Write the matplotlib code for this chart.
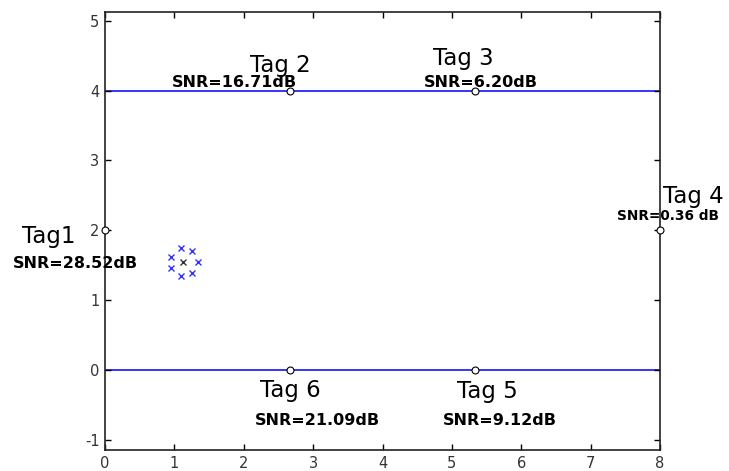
import matplotlib
matplotlib.use("Agg")
import matplotlib.pyplot as plt

plt.rcParams["axes.unicode_minus"] = False

# Tag positions (hexagon around the reader area) and measured SNR
tag_names = ["Tag1", "Tag 2", "Tag 3", "Tag 4", "Tag 5", "Tag 6"]
tag_x = [0.0, 8 / 3, 16 / 3, 8.0, 16 / 3, 8 / 3]
tag_y = [2.0, 4.0, 4.0, 2.0, 0.0, 0.0]
snr_labels = ["SNR=28.52dB", "SNR=16.71dB", "SNR=6.20dB",
              "SNR=0.36 dB", "SNR=9.12dB", "SNR=21.09dB"]

# Boundary lines (walls) of the area
wall_y = [4.0, 0.0]

# Estimated positions (blue) and their centroid (black)
est_x = [1.09, 1.26, 0.955, 1.335, 0.955, 1.09, 1.26]
est_y = [1.74, 1.70, 1.62, 1.55, 1.46, 1.34, 1.39]
centre_x = [1.13]
centre_y = [1.55]

# Text placement: (name_x, name_y, snr_x, snr_y, snr_size)
label_pos = [
    (-1.20, 1.82, -1.33, 1.46, 11.5),
    (2.09, 4.27, 0.97, 4.055, 11.5),
    (4.73, 4.37, 4.60, 4.055, 11.5),
    (8.04, 2.39, 7.38, 2.15, 9.8),
    (5.07, -0.40, 4.87, -0.79, 11.5),
    (2.23, -0.39, 2.16, -0.79, 11.5),
]

fig = plt.figure(figsize=(7.29, 4.71), dpi=100)
ax = fig.add_axes([105 / 729, 21 / 471, 555 / 729, 438 / 471])

for wy in wall_y:
    ax.axhline(wy, color="#0000ff", lw=1.1, zorder=1)

ax.plot(tag_x, tag_y, linestyle="none", marker="o", ms=5, mfc="white",
        mec="black", mew=0.8, zorder=3, clip_on=False)
ax.plot(est_x, est_y, linestyle="none", marker="x", ms=5, color="#3333ff",
        mew=1.0, zorder=3)
ax.plot(centre_x, centre_y, linestyle="none", marker="x", ms=5,
        color="#333333", mew=1.0, zorder=3)

for name, snr, (nx, ny, sx, sy, ss) in zip(tag_names, snr_labels, label_pos):
    ax.text(nx, ny, name, fontsize=16.5, family="DejaVu Sans", color="black",
            ha="left", va="baseline", clip_on=False)
    ax.text(sx, sy, snr, fontsize=ss, family="DejaVu Sans",
            fontweight="bold", color="black", ha="left", va="baseline",
            clip_on=False)

ax.set_xlim(0, 8)
ax.set_ylim(-1.15, 5.125)
ax.set_xticks(range(0, 9))
ax.set_yticks(range(-1, 6))
ax.tick_params(direction="in", top=True, right=True, length=4, width=1,
               labelsize=10.5, labelcolor="#333333", pad=4)
for sp in ax.spines.values():
    sp.set_linewidth(1.2)
    sp.set_color("#222222")

fig.savefig("out.png", dpi=100)
